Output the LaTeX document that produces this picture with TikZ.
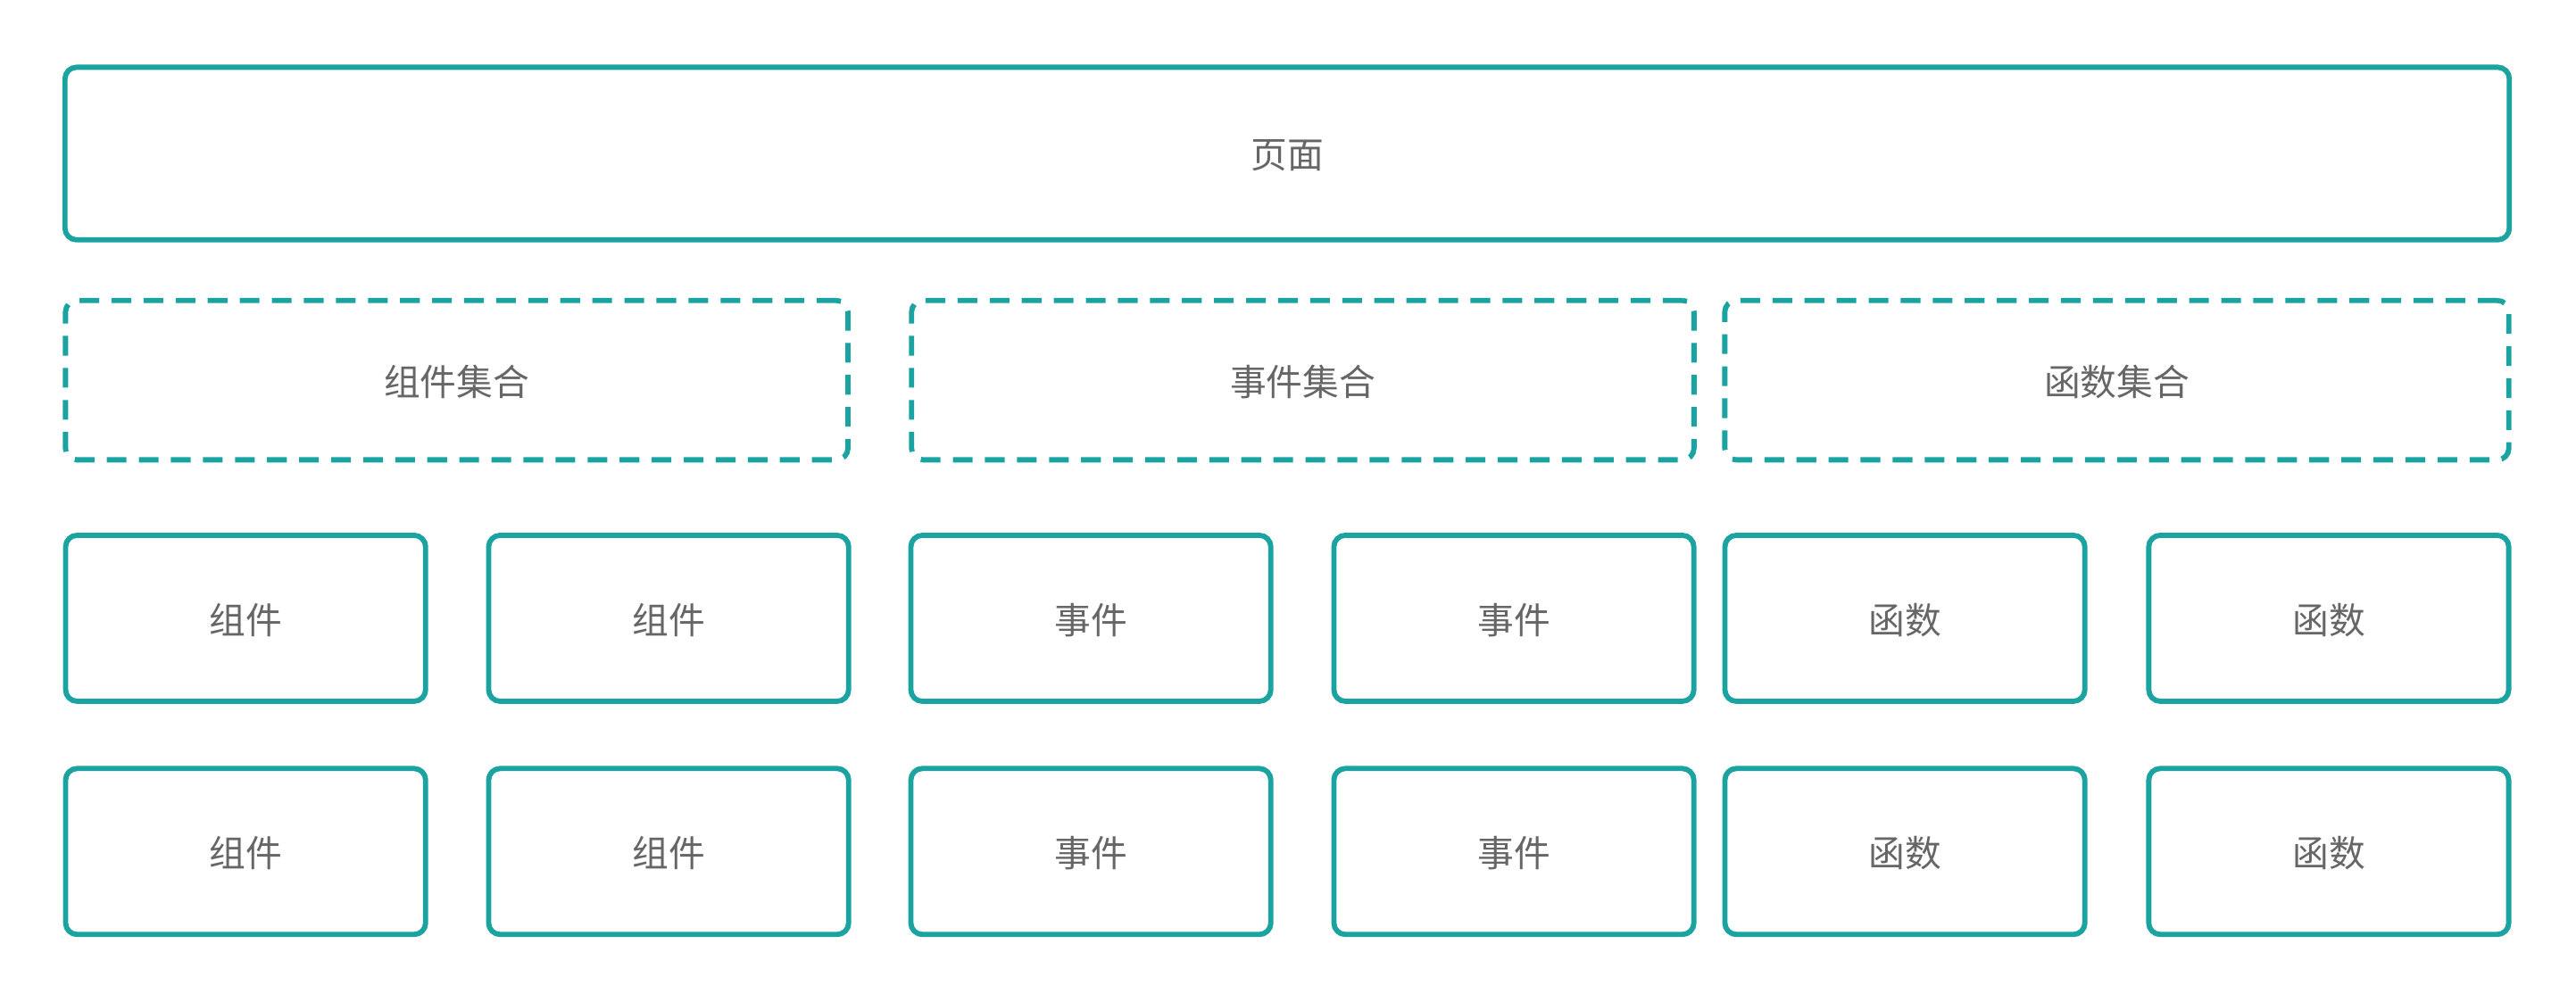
\documentclass[tikz,border=0pt]{standalone}
\usepackage{fontspec}
\newfontfamily\cjk{Noto Sans CJK SC}
\usetikzlibrary{positioning}
\definecolor{boxteal}{HTML}{1AA3A0}
\definecolor{textgray}{HTML}{666666}
\tikzset{
  card/.style = {draw=boxteal, line width=0.9pt, rounded corners=0.07cm, inner sep=0pt, outer sep=0pt,
                 text=textgray, font=\cjk\fontsize{6.3pt}{8pt}\selectfont, text depth=-0.03cm},
  groupbox/.style = {card, dash pattern=on 0.12cm off 0.075cm},
}
\begin{document}
\begin{tikzpicture}[x=0.01cm, y=-0.01cm]
  \useasboundingbox (0,0) rectangle (1568,610);
  \node[card, minimum width=14.87cm, minimum height=1.05cm] (page) at (783.5,93.5) {页面};
  \node[groupbox, minimum width=4.76cm, minimum height=0.97cm] (Gcomp) at (278,231.5) {组件集合};
  \node[groupbox, minimum width=4.76cm, minimum height=0.97cm] (Gevent) at (793,231.5) {事件集合};
  \node[groupbox, minimum width=4.77cm, minimum height=0.97cm] (Gfunc) at (1288.5,231.5) {函数集合};
  % item rows
  \foreach \y [count=\r] in {376.5, 518.5}{
    \foreach \x/\t [count=\c] in {149.5/组件, 407/组件, 664/事件, 921.5/事件, 1159.5/函数, 1417.5/函数}{
      \node[card, minimum width=2.19cm, minimum height=1.01cm] (I\r\c) at (\x,\y) {\t};
    }
  }
\end{tikzpicture}
\end{document}
